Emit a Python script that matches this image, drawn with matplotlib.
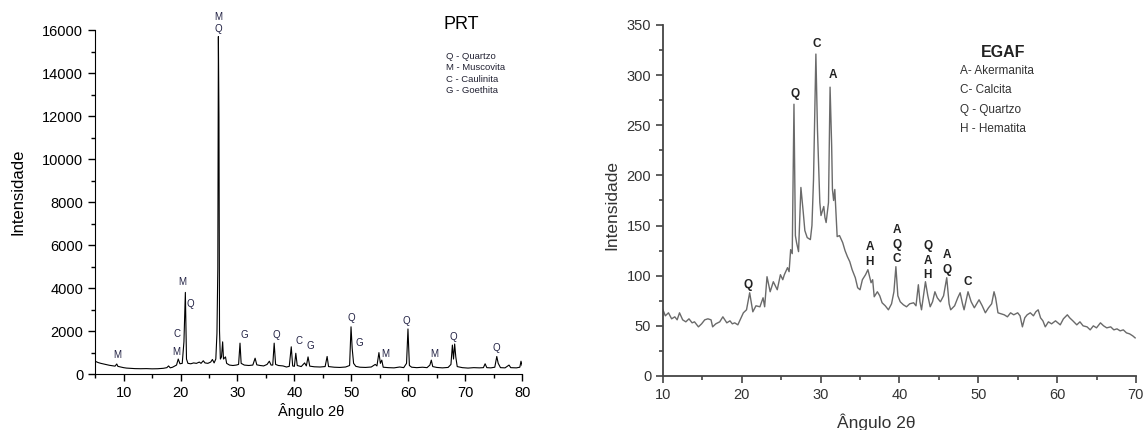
import matplotlib
matplotlib.use("Agg")
import matplotlib.pyplot as plt
from matplotlib.ticker import MultipleLocator

plt.rcParams['font.family'] = ['Liberation Sans', 'DejaVu Sans']

# PRT diffractogram (2theta, counts)
prt_angle = [5.0, 5.5, 6.0, 6.5, 7.0, 7.5, 8.0, 8.5, 8.8, 9.0, 9.5, 10.0, 10.5, 11.0, 12.0, 13.0,
             14.0, 15.0, 16.0, 17.0, 17.6, 17.9, 18.2, 18.6, 19.0, 19.3, 19.6, 19.9, 20.3, 20.6,
             20.85, 21.05, 21.3, 21.8, 22.3, 22.8, 23.3, 23.6, 24.0, 24.3, 24.8, 25.3, 25.6, 25.9,
             26.2, 26.4, 26.55, 26.65, 26.75, 26.85, 27.0, 27.2, 27.4, 27.55, 27.9, 28.1, 28.6,
             29.2, 29.8, 30.2, 30.45, 30.65, 31.2, 32.0, 32.7, 33.1, 33.4, 34.0, 34.6, 35.2, 35.6,
             35.9, 36.2, 36.45, 36.7, 37.2, 38.0, 38.6, 39.1, 39.45, 39.7, 40.0, 40.25, 40.5, 41.2,
             41.8, 42.1, 42.4, 42.7, 43.5, 44.5, 45.4, 45.75, 46.0, 47.0, 48.0, 49.0, 49.7, 49.95,
             50.15, 50.4, 50.8, 51.5, 52.5, 53.5, 54.2, 54.5, 54.85, 55.1, 55.35, 55.6, 56.5, 57.5,
             58.5, 59.2, 59.7, 59.95, 60.2, 60.6, 61.5, 62.5, 63.3, 63.8, 64.05, 64.3, 65.0, 66.0,
             67.0, 67.5, 67.75, 67.95, 68.15, 68.35, 68.6, 69.5, 70.5, 71.5, 72.5, 73.2, 73.5,
             73.8, 74.5, 75.2, 75.55, 75.8, 76.2, 77.0, 77.7, 78.0, 79.0, 79.6, 79.8, 80.0]
prt_counts = [600, 540, 500, 470, 440, 410, 390, 370, 470, 360, 330, 300, 280, 270, 255, 250,
              255, 245, 250, 270, 300, 380, 290, 320, 380, 420, 700, 480, 500, 1500,
              3800, 700, 500, 480, 520, 500, 560, 500, 620, 520, 500, 560, 680, 520,
              700, 1900, 4900, 15700, 12000, 2000, 700, 800, 1500, 700, 800, 500, 420,
              400, 420, 450, 1440, 500, 420, 400, 420, 740, 430, 400, 380, 450, 600,
              420, 420, 1440, 450, 400, 380, 330, 360, 1270, 380, 360, 970, 400, 350,
              520, 380, 800, 370, 340, 330, 350, 820, 350, 320, 310, 330, 400, 2200,
              1200, 500, 360, 320, 310, 330, 450, 380, 1000, 500, 650, 320, 300, 290,
              330, 300, 500, 2100, 400, 320, 300, 320, 300, 420, 650, 350, 310, 290,
              310, 450, 1350, 700, 1400, 800, 350, 300, 280, 300, 290, 300, 480,
              300, 290, 320, 820, 500, 300, 290, 420, 300, 290, 320, 600, 400]

prt_marks = ["M\nQ", "M", "C", "M", "M", "Q", "G", "Q", "C", "G", "Q", "G", "M", "Q", "M", "Q", "Q"]
prt_mark_x = [26.65, 8.9, 19.3, 19.3, 20.3, 21.8, 31.2, 36.9, 40.8, 42.8, 50.0, 51.4, 56.0, 59.7, 64.5, 68.0, 75.5]
prt_mark_y = [16330, 880, 1850, 1040, 4280, 3250, 1810, 1810, 1530, 1300, 2600, 1460, 920, 2460, 920, 1730, 1200]
prt_legend = ["Q - Quartzo", "M - Muscovita", "C - Caulinita", "G - Goethita"]

# EGAF diffractogram
egaf_angle = [10.0, 10.3, 10.7, 11.1, 11.5, 11.8, 12.1, 12.5, 12.9, 13.3, 13.7, 14.0, 14.5, 14.9,
              15.3, 15.7, 16.1, 16.3, 16.7, 17.2, 17.6, 18.1, 18.5, 18.8, 19.1, 19.5, 19.9, 20.2,
              20.6, 21.0, 21.4, 21.8, 22.3, 22.7, 22.9, 23.2, 23.6, 24.0, 24.5, 24.9, 25.2, 25.4,
              25.8, 26.0, 26.2, 26.4, 26.62, 26.8, 26.95, 27.2, 27.5, 27.8, 28.0, 28.3, 28.7, 28.9,
              29.1, 29.4, 29.6, 29.9, 30.05, 30.2, 30.4, 30.55, 30.7, 31.0, 31.2, 31.4, 31.5, 31.65,
              31.8, 32.1, 32.4, 32.8, 33.1, 33.4, 33.7, 34.0, 34.4, 34.7, 35.0, 35.3, 35.7, 36.0,
              36.4, 36.6, 36.8, 37.2, 37.5, 37.8, 38.2, 38.6, 39.0, 39.3, 39.55, 39.8, 40.1, 40.5,
              40.9, 41.3, 41.8, 42.1, 42.4, 42.6, 42.8, 43.3, 43.6, 43.9, 44.2, 44.5, 44.8, 45.2,
              45.6, 46.0, 46.3, 46.5, 47.0, 47.4, 47.7, 48.0, 48.2, 48.7, 49.1, 49.5, 49.8, 50.1,
              50.5, 50.9, 51.3, 51.7, 52.0, 52.2, 52.5, 52.9, 53.3, 53.7, 54.1, 54.5, 55.0, 55.3,
              55.6, 55.9, 56.2, 56.6, 57.0, 57.3, 57.6, 57.9, 58.2, 58.5, 58.9, 59.3, 59.8, 60.1,
              60.4, 60.8, 61.3, 61.6, 62.0, 62.5, 62.9, 63.3, 63.8, 64.2, 64.6, 65.0, 65.5, 65.9,
              66.3, 66.8, 67.2, 67.6, 68.0, 68.4, 68.8, 69.2, 69.6, 69.9]
egaf_counts = [66, 60, 63, 57, 59, 56, 63, 56, 54, 57, 53, 54, 49, 52,
               56, 57, 56, 49, 52, 54, 59, 53, 55, 52, 53, 51, 58, 63,
               66, 83, 64, 70, 69, 78, 69, 99, 84, 94, 86, 101, 96, 101,
               108, 104, 126, 122, 271, 140, 133, 124, 188, 163, 145, 138, 136, 150,
               196, 321, 246, 173, 160, 164, 169, 158, 153, 173, 288, 230, 186, 175,
               186, 139, 140, 133, 125, 119, 114, 106, 98, 88, 86, 96, 101, 106,
               93, 96, 79, 84, 80, 73, 70, 66, 72, 84, 109, 80, 74, 71,
               69, 72, 73, 70, 91, 74, 66, 94, 80, 69, 74, 84, 78, 74,
               80, 98, 72, 66, 70, 78, 83, 72, 66, 84, 74, 68, 72, 76,
               70, 63, 68, 72, 84, 78, 63, 62, 61, 59, 63, 61, 63, 60,
               49, 58, 61, 63, 60, 64, 66, 58, 55, 49, 54, 52, 55, 53,
               51, 57, 61, 58, 55, 51, 54, 50, 49, 46, 50, 48, 53, 50,
               48, 49, 46, 47, 45, 46, 43, 42, 40, 38]

egaf_marks = ["Q", "Q", "C", "A", "A\nH", "A\nQ\nC", "Q\nA\nH", "A\nQ", "C"]
egaf_mark_x = [20.8, 26.75, 29.5, 31.6, 36.25, 39.7, 43.6, 46.0, 48.7]
egaf_mark_y = [91, 281, 331, 300, 121, 131, 115, 113, 94]
egaf_legend = ["A- Akermanita", "C- Calcita", "Q - Quartzo", "H - Hematita"]

fig = plt.figure(figsize=(11.46, 4.30), dpi=100)

# ---- left panel: PRT
ax1 = fig.add_axes([0.083, 0.130, 0.3726, 0.800])
ax1.plot(prt_angle, prt_counts, color='black', lw=0.8)
ax1.set_xlim(5, 80)
ax1.set_ylim(0, 16000)
ax1.spines['top'].set_visible(False)
ax1.spines['right'].set_visible(False)
ax1.xaxis.set_major_locator(MultipleLocator(10))
ax1.xaxis.set_minor_locator(MultipleLocator(5))
ax1.yaxis.set_major_locator(MultipleLocator(2000))
ax1.yaxis.set_minor_locator(MultipleLocator(1000))
ax1.tick_params(which='major', direction='out', length=5, width=1, labelsize=10.5)
ax1.tick_params(which='minor', direction='out', length=3, width=1)
ax1.set_ylabel('Intensidade', fontsize=12)
ax1.yaxis.set_label_coords(-0.164, 0.53)
ax1.set_xlabel('Ângulo 2θ', fontsize=10.5)
ax1.xaxis.set_label_coords(0.506, -0.084)
for m, x, y in zip(prt_marks, prt_mark_x, prt_mark_y):
    ax1.text(x, y, m, fontsize=7, color='#222244', ha='center', va='center',
             linespacing=1.2, clip_on=False)
ax1.text(0.815, 1.015, 'PRT', transform=ax1.transAxes, fontsize=13, va='center', ha='left')
for i, s in enumerate(prt_legend):
    ax1.text(0.821, 0.924 - i * 0.0335, s, transform=ax1.transAxes, fontsize=6.8,
             color='#222233', va='center', ha='left')

# ---- right panel: EGAF
ax2 = fig.add_axes([0.5785, 0.1256, 0.4127, 0.8163])
ax2.plot(egaf_angle, egaf_counts, color='#6a6a6a', lw=1.0)
ax2.set_xlim(10, 70)
ax2.set_ylim(0, 350)
ax2.spines['top'].set_visible(False)
ax2.spines['right'].set_visible(False)
for sp in ['left', 'bottom']:
    ax2.spines[sp].set_color('#444444')
    ax2.spines[sp].set_linewidth(1.3)
ax2.xaxis.set_major_locator(MultipleLocator(10))
ax2.xaxis.set_minor_locator(MultipleLocator(5))
ax2.yaxis.set_major_locator(MultipleLocator(50))
ax2.yaxis.set_minor_locator(MultipleLocator(25))
ax2.tick_params(which='major', direction='out', length=5, width=1.2, color='#444444',
                labelsize=10.5, labelcolor='#333333')
ax2.tick_params(which='minor', direction='out', length=3, width=1.2, color='#444444')
ax2.set_ylabel('Intensidade', fontsize=12.5, color='#333333')
ax2.yaxis.set_label_coords(-0.093, 0.487)
ax2.set_xlabel('Ângulo 2θ', fontsize=12.5, color='#333333')
ax2.xaxis.set_label_coords(0.45, -0.108)
for m, x, y in zip(egaf_marks, egaf_mark_x, egaf_mark_y):
    ax2.text(x, y, m, fontsize=8.5, fontweight='bold', color='#222222', ha='center',
             va='center', linespacing=1.3, clip_on=False)
ax2.text(0.719, 0.923, 'EGAF', transform=ax2.transAxes, fontsize=11.5, fontweight='bold',
         ha='center', va='center', color='#222222')
for i, s in enumerate(egaf_legend):
    ax2.text(0.628, 0.870 - i * 0.0555, s, transform=ax2.transAxes, fontsize=8.5,
             color='#333333', va='center', ha='left')

fig.savefig('out.png', dpi=100)
